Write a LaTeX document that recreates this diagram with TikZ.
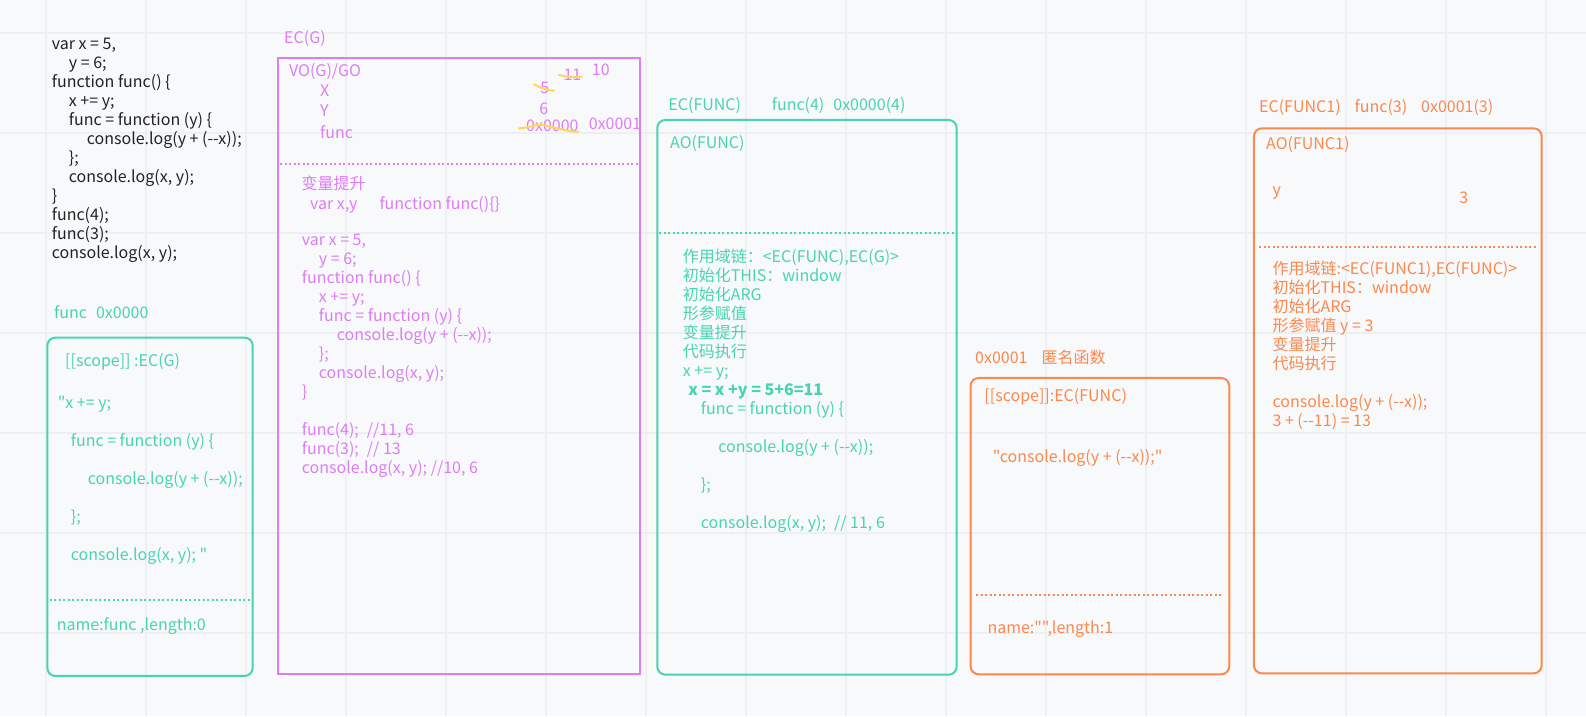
\documentclass[tikz,border=0pt]{standalone}
\usepackage{fontspec}
\usepackage{xcolor}
\usepackage{tikz}
\newfontfamily\uifont{Noto Sans CJK SC}
\definecolor{pagebg}{HTML}{F8F9FB}
\definecolor{gridgray}{HTML}{EEEFF2}
\definecolor{codeblack}{HTML}{222222}
\definecolor{vomagenta}{HTML}{DD7DF5}
\definecolor{aogreen}{HTML}{47D4B2}
\definecolor{fnorange}{HTML}{FB884C}
\definecolor{strikeyellow}{HTML}{FFD65A}
\newcommand{\ind}[1]{\hspace*{#1pt}}

\begin{document}
\begin{tikzpicture}[x=1.0115pt, y=-1.0115pt,
  txt/.style={anchor=north west, inner sep=0pt, align=left, yshift=-1.2pt,
    font=\uifont\fontsize{16}{19}\selectfont, execute at begin node=\strut},
  frame/.style={line width=2pt},
  sepline/.style={line width=2pt, dash pattern=on 2pt off 2.5pt},
  strike/.style={strikeyellow, line width=2pt, line cap=round}]
  % Background and grid
  \fill[pagebg] (0,0) rectangle (1568,707.9);
  \useasboundingbox (0,0) rectangle (1568,707.9);
  \begin{scope}[x=1pt, y=-1pt]
    \foreach \gx in {46,146,...,1546} \draw[gridgray, line width=1.6pt] (\gx,0) -- (\gx,716);
    \foreach \gy in {33,133,...,633} \draw[gridgray, line width=1.6pt] (0,\gy) -- (1586,\gy);
  \end{scope}

  % Source code
  \node[txt, text=codeblack] (src) at (51.1,35.8) {var x = 5,\\
    \ind{17}y = 6;\\
    function func() \{\\
    \ind{17}x += y;\\
    \ind{17}func = function (y) \{\\
    \ind{35}console.log(y + (--x));\\
    \ind{17}\};\\
    \ind{17}console.log(x, y);\\
    \}\\
    func(4);\\
    func(3);\\
    console.log(x, y);};

  % EC(G)
  \draw[frame, vomagenta] (275.2,57) rectangle (632.7,666);
  \draw[sepline, vomagenta] (277,162.1) -- (632,162.1);
  \node[txt, text=vomagenta] (ecg) at (280.8,28.2) {EC(G)};
  \node[txt, text=vomagenta] (vog) at (285.7,61.5) {VO(G)/GO};
  \node[txt, text=vomagenta] (varx) at (316.4,80.9) {X};
  \node[txt, text=vomagenta] (vary) at (316.4,100.7) {Y};
  \node[txt, text=vomagenta] (varfunc) at (316.4,122.5) {func};
  \node[txt, text=vomagenta] (xten) at (585,60.3) {10};
  \node[txt, text=vomagenta] (xeleven) at (557,65.3) {11};
  \node[txt, text=vomagenta] (xfive) at (534,78.3) {5};
  \node[txt, text=vomagenta] (ysix) at (533,98.3) {6};
  \node[txt, text=vomagenta] (fold) at (520,115.9) {0x0000};
  \node[txt, text=vomagenta] (fnew) at (582,113.9) {0x0001};
  \draw[strike] (552.6,74.1) .. controls (562,76.5) and (568,76.5) .. (575.1,75.8);
  \draw[strike] (528.2,83.3) .. controls (534,87) and (540,89) .. (548,89.7);
  \draw[strike] (513.1,126.9) .. controls (526,126) and (530,122) .. (537,123.6)
    .. controls (548,126) and (560,130) .. (571.7,130.2);
  \node[txt, text=vomagenta] (ghoist) at (298,172.3) {变量提升};
  \node[txt, text=vomagenta] (gdecl) at (306.5,192.3) {var x,y\ind{22}function func()\{\}};
  \node[txt, text=vomagenta] (gcode) at (298.3,230.3) {var x = 5,\\
    \ind{17}y = 6;\\
    function func() \{\\
    \ind{17}x += y;\\
    \ind{17}func = function (y) \{\\
    \ind{35}console.log(y + (--x));\\
    \ind{17}\};\\
    \ind{17}console.log(x, y);\\
    \}\\[19pt]
    func(4);\ind{8}//11, 6\\
    func(3);\ind{8}// 13\\
    console.log(x, y); //10, 6};

  % func 0x0000
  \draw[frame, aogreen, rounded corners=8pt] (46.8,333.8) rectangle (249.8,668.3);
  \draw[sepline, aogreen] (49,593.2) -- (248,593.2);
  \node[txt, text=aogreen] (heap0) at (53.4,300.4) {func\ind{9}0x0000};
  \node[txt, text=aogreen] (scope0) at (64.3,347.9) {[[scope]] :EC(G)};
  \node[txt, text=aogreen] (body0) at (57,390) {"x += y;\\[19pt]
    \ind{13}func = function (y) \{\\[19pt]
    \ind{30}console.log(y + (--x));\\[19pt]
    \ind{13}\};\\[19pt]
    \ind{13}console.log(x, y); "};
  \node[txt, text=aogreen] (name0) at (56,608.5) {name:func ,length:0};

  % EC(FUNC)
  \draw[frame, aogreen, rounded corners=8pt] (649.8,118.6) rectangle (945.8,667);
  \draw[sepline, aogreen] (652,230.7) -- (944,230.7);
  \node[txt, text=aogreen] (ecf) at (660.7,95.1) {EC(FUNC)};
  \node[txt, text=aogreen] (call4) at (762.9,95.1) {func(4)\ind{9}0x0000(4)};
  \node[txt, text=aogreen] (aof) at (662.4,132) {AO(FUNC)};
  \node[txt, text=aogreen] (stepf) at (674.9,244.4) {作用域链：<EC(FUNC),EC(G)>\\
    初始化THIS：window\\
    初始化ARG\\
    形参赋值\\
    变量提升\\
    代码执行\\
    x += y;\\
    \ind{5.5}\textbf{x = x +y = 5+6=11}\\
    \ind{18}func = function (y) \{\\[19pt]
    \ind{35.5}console.log(y + (--x));\\[19pt]
    \ind{18}\};\\[19pt]
    \ind{18}console.log(x, y);\ind{8}// 11, 6};

  % 0x0001
  \draw[frame, fnorange, rounded corners=8pt] (959.6,373.7) rectangle (1215.3,666.6);
  \draw[sepline, fnorange] (965,588.2) -- (1209,588.2);
  \node[txt, text=fnorange] (heap1) at (963.9,344.6) {0x0001\ind{14}匿名函数};
  \node[txt, text=fnorange] (scope1) at (973.1,382.8) {[[scope]]:EC(FUNC)};
  \node[txt, text=fnorange] (body1) at (981.4,442.8) {"console.log(y + (--x));"};
  \node[txt, text=fnorange] (name1) at (976.1,611.5) {name:"",length:1};

  % EC(FUNC1)
  \draw[frame, fnorange, rounded corners=8pt] (1239.7,126.9) rectangle (1524.2,665.7);
  \draw[sepline, fnorange] (1245,243.9) -- (1519,243.9);
  \node[txt, text=fnorange] (ecf1) at (1244.7,96.8) {EC(FUNC1)\ind{14}func(3)\ind{14}0x0001(3)};
  \node[txt, text=fnorange] (aof1) at (1251.6,133.7) {AO(FUNC1)};
  \node[txt, text=fnorange] (argy) at (1257.9,179) {y};
  \node[txt, text=fnorange] (argval) at (1442.7,186.7) {3};
  \node[txt, text=fnorange] (stepf1) at (1257.9,256.6) {作用域链:<EC(FUNC1),EC(FUNC)>\\
    初始化THIS：window\\
    初始化ARG\\
    形参赋值 y = 3\\
    变量提升\\
    代码执行\\[19pt]
    console.log(y + (--x));\\
    3 + (--11) = 13};
\end{tikzpicture}
\end{document}
